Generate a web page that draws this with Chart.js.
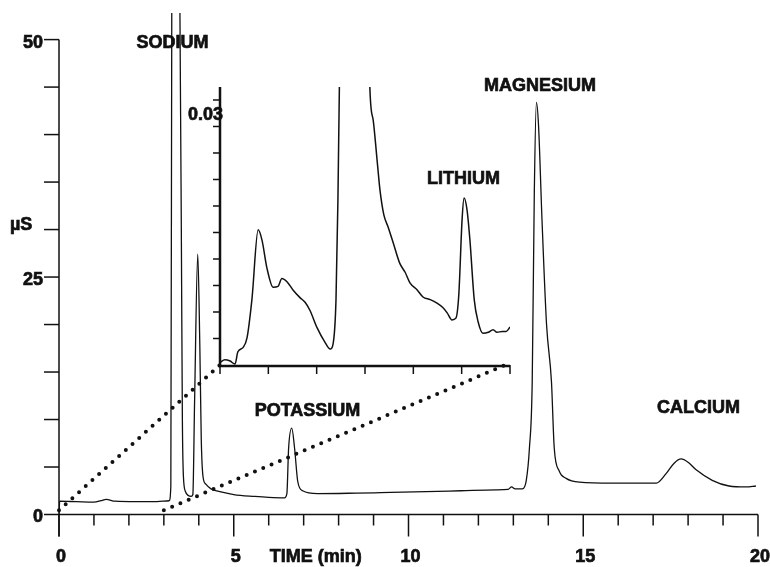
<!DOCTYPE html>
<html>
<head>
<meta charset="utf-8">
<script src="https://cdn.jsdelivr.net/npm/chart.js@4.4.1/dist/chart.umd.min.js"></script>
<style>
  body { margin: 0; background: #fff; }
  #wrap { position: relative; width: 770px; height: 567px; }
  #wrap canvas { position: absolute; left: 0; top: 0; }
</style>
</head>
<body>
<div id="wrap">
  <canvas id="mainChart" width="770" height="567"></canvas>
  <canvas id="insetChart" width="770" height="567"></canvas>
</div>
<script>
// --- DATA ---
// main chromatogram: time (min) / conductivity (uS)
const mainTime = [0, 0.02, 0.5, 1.0, 1.2, 1.35, 1.6, 2.2, 2.8, 3.15, 3.2, 3.23, 3.3, 3.4, 3.46, 3.5, 3.53, 3.56, 3.62, 3.7,
  3.78, 3.83, 3.88, 3.97, 4.03, 4.07, 4.12, 4.2, 4.35, 4.6, 5.0, 5.6, 6.0, 6.45, 6.52, 6.57, 6.66, 6.74, 6.83, 6.97,
  7.4, 8.5, 9.2, 10.5, 11.5, 12.5, 12.85, 12.95, 13.05, 13.26, 13.37, 13.46, 13.54, 13.6, 13.66, 13.72, 13.82, 13.95, 14.09, 14.17,
  14.31, 14.51, 14.89, 15.83, 17.09, 17.37, 17.6, 17.8, 18.0, 18.23, 18.69, 19.17, 19.66, 19.94];
const mainSignal = [0, 1.4, 1.35, 1.3, 1.45, 1.6, 1.4, 1.35, 1.35, 1.45, 3, 60, 90, 70, 53, 30, 10, 4, 2.4, 2.0,
  1.9, 2.1, 12, 27.4, 17.6, 8, 4, 3.2, 2.7, 2.4, 2.1, 1.9, 1.8, 1.75, 2.2, 7.0, 9.1, 7.0, 3.5, 2.5,
  2.2, 2.25, 2.3, 2.4, 2.5, 2.6, 2.65, 2.9, 2.7, 2.7, 3.6, 7, 14, 34, 43.4, 41, 31, 20, 14, 7,
  4.6, 3.8, 3.4, 3.3, 3.3, 4.3, 5.4, 5.85, 5.5, 4.7, 3.6, 3.0, 2.9, 3.0];

// inset (expanded trace)
const insetTime = [0, 0.10, 0.21, 0.31, 0.37, 0.48, 0.56, 0.66, 0.79, 0.87, 0.97, 1.10, 1.20, 1.28, 1.39, 1.51, 1.66, 1.76, 1.86, 2.01,
  2.17, 2.28, 2.34, 2.40, 2.44, 2.47, 2.55, 2.8, 3.05, 3.10, 3.17, 3.25, 3.31, 3.39, 3.48, 3.58, 3.72, 3.83, 3.93, 4.08,
  4.20, 4.35, 4.49, 4.61, 4.70, 4.80, 4.88, 4.94, 5.01, 5.05, 5.11, 5.17, 5.26, 5.34, 5.44, 5.55, 5.65, 5.73, 5.84, 5.92, 6.0];
const insetSignal = [0.0003, 0.0006, 0.00045, 0.0001, 0.0015, 0.002, 0.0031, 0.0074, 0.0153, 0.0141, 0.011, 0.0088, 0.0089, 0.0098, 0.0094, 0.0085, 0.0076, 0.0071, 0.0062, 0.0042,
  0.0026, 0.0018, 0.0024, 0.0074, 0.0187, 0.0315, 0.05, 0.07, 0.05, 0.0315, 0.0277, 0.0232, 0.0198, 0.0170, 0.0156, 0.0139, 0.0115, 0.0105, 0.0093, 0.0085,
  0.0077, 0.0074, 0.0070, 0.0065, 0.0059, 0.0051, 0.0053, 0.0079, 0.0166, 0.0189, 0.0176, 0.0142, 0.0074, 0.0049, 0.0036, 0.0037, 0.0040, 0.0037, 0.0038, 0.0038, 0.0043];

// axes
const xTickValues = [0, 1, 2, 3, 4, 5, 6, 7, 8, 9, 10, 11, 12, 13, 14, 15, 16, 17, 18, 19, 20];
const xLabelValues = [0, 5, 10, 15, 20];
const yTickValues = [0, 5, 10, 15, 20, 25, 30, 35, 40, 45, 50];
const yLabelValues = [0, 25, 50];
const insetXTicks = [0, 1, 2, 3, 4, 5, 6];
const insetYTicks = [0.003, 0.006, 0.009, 0.012, 0.015, 0.018, 0.021, 0.024, 0.027, 0.03];
const insetYLabels = [0.03];

// peak names
const peakNames = ["SODIUM", "POTASSIUM", "MAGNESIUM", "CALCIUM"];
const peakNameX = [3.25, 7.11, 13.76, 18.3];
const peakNameY = [49.6, 10.9, 45.1, 11.2];
const insetPeakName = "LITHIUM";
const insetPeakX = 5.04;
const insetPeakY = 0.0211;

// dotted guide lines start on the main trace at these times
const guideFrom = [0, 3];
const guideFromY = 0.45;

const FONT = 'bold 18px "Liberation Sans", Arial, sans-serif';
const INK = '#111';

function toPoints(xs, ys) {
    return xs.map((v, i) => ({ x: v, y: ys[i] }));
}

// heavy label text (original uses a black-weight face)
function heavyText(ctx, txt, px, py) {
    ctx.fillText(txt, px, py);
    ctx.strokeText(txt, px, py);
}

// --- INSET ---
const insetAxes = {
    id: 'insetAxes',
    afterDraw(chart) {
        const { ctx, chartArea: a, scales: { x, y } } = chart;
        ctx.save();
        ctx.strokeStyle = INK;
        ctx.fillStyle = INK;
        ctx.lineWidth = 2.5;
        ctx.beginPath();
        ctx.moveTo(a.left, a.top);
        ctx.lineTo(a.left, a.bottom + 1);
        ctx.lineTo(a.right, a.bottom + 1);
        ctx.stroke();

        ctx.lineWidth = 1.5;
        insetYTicks.forEach(v => {
            const py = y.getPixelForValue(v);
            ctx.beginPath(); ctx.moveTo(a.left - 7, py); ctx.lineTo(a.left, py); ctx.stroke();
        });
        insetXTicks.forEach(v => {
            const px = x.getPixelForValue(v);
            ctx.beginPath(); ctx.moveTo(px, a.bottom); ctx.lineTo(px, a.bottom + 9); ctx.stroke();
        });

        ctx.font = FONT;
        ctx.lineWidth = 0.7;
        ctx.textAlign = 'right';
        ctx.textBaseline = 'middle';
        insetYLabels.forEach(v => heavyText(ctx, String(v), a.left + 3, y.getPixelForValue(v) + 15));

        ctx.textAlign = 'center';
        heavyText(ctx, insetPeakName, x.getPixelForValue(insetPeakX), y.getPixelForValue(insetPeakY));
        ctx.restore();
    }
};

const insetChart = new Chart(document.getElementById('insetChart'), {
    type: 'line',
    data: {
        datasets: [{
            data: toPoints(insetTime, insetSignal),
            borderColor: INK,
            borderWidth: 1.5,
            pointRadius: 0,
            cubicInterpolationMode: 'monotone',
            fill: false
        }]
    },
    options: {
        responsive: false,
        animation: false,
        events: [],
        layout: { padding: { left: 220, right: 260, top: 87, bottom: 202 } },
        plugins: { legend: { display: false }, tooltip: { enabled: false } },
        scales: {
            x: { type: 'linear', min: 0, max: 6, display: false },
            y: { type: 'linear', min: 0, max: 0.03147, display: false }
        }
    },
    plugins: [insetAxes]
});

// --- MAIN ---
const mainAxes = {
    id: 'mainAxes',
    afterDraw(chart) {
        const { ctx, chartArea: a, scales: { x, y } } = chart;
        const y0 = y.getPixelForValue(0);
        ctx.save();
        ctx.strokeStyle = INK;
        ctx.fillStyle = INK;
        ctx.lineWidth = 1.5;

        // axis lines
        ctx.beginPath();
        ctx.moveTo(a.left, y.getPixelForValue(50));
        ctx.lineTo(a.left, y0 + 22);
        ctx.moveTo(a.left, y0);
        ctx.lineTo(x.getPixelForValue(20), y0);
        ctx.stroke();

        yTickValues.forEach(v => {
            const py = y.getPixelForValue(v);
            ctx.beginPath(); ctx.moveTo(a.left - 15, py); ctx.lineTo(a.left, py); ctx.stroke();
        });
        xTickValues.forEach(v => {
            const px = x.getPixelForValue(v);
            const len = xLabelValues.includes(v) ? 22 : 11;
            ctx.beginPath(); ctx.moveTo(px, y0); ctx.lineTo(px, y0 + len); ctx.stroke();
        });

        ctx.font = FONT;
        ctx.lineWidth = 0.7;
        ctx.textBaseline = 'middle';
        ctx.textAlign = 'right';
        yLabelValues.forEach(v => heavyText(ctx, String(v), a.left - 16, y.getPixelForValue(v) + 3));
        ctx.textAlign = 'center';
        xLabelValues.forEach(v => heavyText(ctx, String(v), x.getPixelForValue(v) + 2, y0 + 43));

        ctx.textAlign = 'left';
        heavyText(ctx, 'TIME (min)', x.getPixelForValue(5) + 36, y0 + 43);
        heavyText(ctx, '\u00b5S', 10, y.getPixelForValue(30.5));

        ctx.textAlign = 'center';
        peakNames.forEach((n, i) => heavyText(ctx, n, x.getPixelForValue(peakNameX[i]), y.getPixelForValue(peakNameY[i])));

        // dotted guides to the inset corners
        const ia = insetChart.chartArea;
        const ends = [[ia.left, ia.bottom], [ia.right, ia.bottom - 2]];
        ctx.lineWidth = 4;
        ctx.lineCap = 'round';
        ctx.setLineDash([0, 9]);
        guideFrom.forEach((t, i) => {
            ctx.beginPath();
            ctx.moveTo(x.getPixelForValue(t), y.getPixelForValue(guideFromY));
            ctx.lineTo(ends[i][0], ends[i][1]);
            ctx.stroke();
        });
        ctx.restore();
    }
};

new Chart(document.getElementById('mainChart'), {
    type: 'line',
    data: {
        datasets: [{
            data: toPoints(mainTime, mainSignal),
            borderColor: INK,
            borderWidth: 1.3,
            pointRadius: 0,
            cubicInterpolationMode: 'monotone',
            fill: false
        }]
    },
    options: {
        responsive: false,
        animation: false,
        events: [],
        layout: { padding: { left: 59, right: 12, top: 13, bottom: 52.5 } },
        plugins: { legend: { display: false }, tooltip: { enabled: false } },
        scales: {
            x: { type: 'linear', min: 0, max: 20, display: false },
            y: { type: 'linear', min: 0, max: 52.8, display: false }
        }
    },
    plugins: [mainAxes]
});
</script>
</body>
</html>
